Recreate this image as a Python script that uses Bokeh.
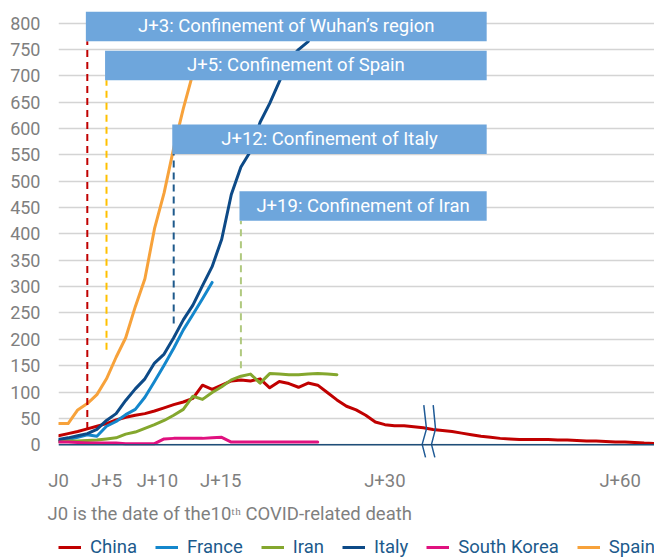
from bokeh.plotting import figure
from bokeh.layouts import column
from bokeh.models import Range1d, FixedTicker, Legend, LegendItem, Span, Title
from bokeh.embed import file_html
from bokeh.resources import INLINE
from bokeh.core.properties import value

FONT = "Roboto"
FS = "18.5px"

# ---- data (x = day position on the chart's axis, J0 = 0) ----
china = [17, 21, 25, 30, 35, 40, 47, 52, 56, 59, 64, 70, 76, 81, 88, 113, 105, 113,
         121, 123, 121, 125, 108, 120, 116, 109, 117, 113, 99, 85, 73, 66, 56, 43, 38,
         36, 36, 34, 32, 29, 27, 25, 22, 19, 16, 14, 12, 11, 10, 10, 10, 10, 9, 9, 8,
         7, 7, 6, 5, 5, 4, 3, 2.5]
france = [7, 10, 14, 19, 16, 35, 44, 57, 67, 90, 120, 151, 183, 218, 247, 277, 308]
iran = [6, 7, 7, 8, 9, 11, 13, 20, 24, 31, 38, 46, 56, 67, 92, 86, 99, 110, 123, 130,
        134, 117, 135, 134, 133, 133, 134, 135, 134, 133]
italy = [10, 13, 17, 21, 29, 46, 59, 84, 106, 125, 155, 172, 203, 237, 265, 302, 338,
         390, 475, 527, 557, 612, 648, 689, 730, 750, 765, 810]
south_korea = [5, 5, 4, 3, 3, 3, 3, 2, 2, 2, 2, 11, 12, 12, 12, 12, 13, 14, 5, 5, 5, 5,
               5, 5, 5, 5, 5, 5]
spain = [40, 40, 66, 78, 95, 125, 166, 203, 262, 315, 410, 478, 563, 638, 705]

series_names = ["China", "France", "Iran", "Italy", "South Korea", "Spain"]
series_values = [china, france, iran, italy, south_korea, spain]
series_colors = ["#c00000", "#1487cc", "#84a72e", "#0d4a87", "#e0117f", "#f7a23b"]

# confinement events
event_days = [3, 5, 12, 19]
event_labels = ["J+3: Confinement of Wuhan\u2019s region", "J+5: Confinement of Spain",
                "J+12: Confinement of Italy", "J+19: Confinement of Iran"]
event_colors = ["#c00000", "#ffc000", "#1f5a8c", "#b0c97f"]
event_box_top = [822, 748, 608, 481]
event_line_end = [30, 180, 230, 145]

# axis ticks
y_ticks = list(range(0, 801, 50))
x_tick_pos = [0, 5, 10.3, 16.9, 34.0, 58.5]
x_tick_labels = ["J0", "J+5", "J+10", "J+15", "J+30", "J+60"]

note_text = "J0 is the date of the10\u1d57\u02b0 COVID-related death"

# ---- main chart ----
p = figure(width=654, height=494, output_backend="svg", toolbar_location=None,
           x_range=Range1d(0, 62.08), y_range=Range1d(-30, 828),
           min_border_left=58, min_border_right=0, min_border_top=8, min_border_bottom=26)
p.outline_line_color = None
p.background_fill_color = "white"
p.border_fill_color = "white"
p.xgrid.visible = False
p.ygrid.ticker = FixedTicker(ticks=y_ticks)
p.ygrid.grid_line_color = "#d4d4d4"
p.ygrid.grid_line_width = 1.5

p.yaxis.ticker = FixedTicker(ticks=y_ticks)
p.yaxis.axis_line_color = None
p.yaxis.major_tick_line_color = None
p.yaxis.minor_tick_line_color = None
p.yaxis.major_tick_out = 0
p.yaxis.major_label_text_font = FONT
p.yaxis.major_label_text_font_size = "18px"
p.yaxis.major_label_text_color = "#7f7f7f"
p.yaxis.major_label_standoff = 18

p.xaxis.ticker = FixedTicker(ticks=x_tick_pos)
p.xaxis.major_label_overrides = {k: v for k, v in zip(x_tick_pos, x_tick_labels)}
p.xaxis.axis_line_color = None
p.xaxis.major_tick_line_color = None
p.xaxis.minor_tick_line_color = None
p.xaxis.major_label_text_font = FONT
p.xaxis.major_label_text_font_size = FS
p.xaxis.major_label_text_color = "#7f7f7f"
p.xaxis.major_label_standoff = 3

# baseline
p.add_layout(Span(location=0, dimension="width", line_color="#1f4e79", line_width=1.5))

# series
for name, vals, col in zip(series_names, series_values, series_colors):
    p.line(list(range(len(vals))), vals, line_color=col, line_width=3,
           line_join="round", line_cap="round")

# axis break marks
break_y = [75, 30, 0.6, -24]
for bx in ([38.05, 38.33, 37.88, 38.23], [39.03, 39.27, 38.85, 39.2]):
    p.line(bx, break_y, line_color="#1f5a96", line_width=1.5)

# event dashed lines and boxes
box_h = 56
box_right = 44.6
box_bottom = [t - box_h for t in event_box_top]
for d, col, y0, y1 in zip(event_days, event_colors, event_line_end, box_bottom):
    p.line([d, d], [y0, y1], line_color=col, line_width=2, line_dash="7 5")
box_left = [d - 0.15 for d in event_days]
p.quad(left=box_left, right=[box_right] * 4, top=event_box_top, bottom=box_bottom,
       fill_color="#6ea6dc", line_color=None)
p.text(x=[(l + box_right) / 2 for l in box_left],
       y=[(t + b) / 2 for t, b in zip(event_box_top, box_bottom)],
       text=event_labels, text_color="white", text_font=value(FONT),
       text_font_size=FS, text_align="center", text_baseline="middle")

# ---- note + legend strip ----
q = figure(width=654, height=64, output_backend="svg", toolbar_location=None,
           x_range=Range1d(0, 1), y_range=Range1d(0, 1),
           min_border_left=58, min_border_right=0, min_border_top=30, min_border_bottom=0)
q.axis.visible = False
q.grid.visible = False
q.outline_line_color = None
q.border_fill_color = "white"

q.add_layout(Title(text=note_text, align="left", offset=-11, standoff=0,
                   text_font=FONT, text_font_size=FS, text_color="#7f7f7f",
                   text_font_style="normal"), "above")

items = []
for name, col in zip(series_names, series_colors):
    # legend swatches: lines kept outside the strip's visible range
    r = q.line(x=[5, 6], y=[5, 6], line_color=col, line_width=3)
    items.append(LegendItem(label=name, renderers=[r]))

legend = Legend(items=items, orientation="horizontal", location=(0, 0),
                label_text_font=FONT, label_text_font_size=FS,
                label_text_color="#1c5a8c", glyph_width=23, glyph_height=18,
                label_standoff=9, spacing=18, padding=0, margin=0,
                border_line_color=None, background_fill_alpha=0)
q.add_layout(legend, "center")

layout = column(p, q, spacing=0)
open("out.html", "w").write(file_html(layout, INLINE))
